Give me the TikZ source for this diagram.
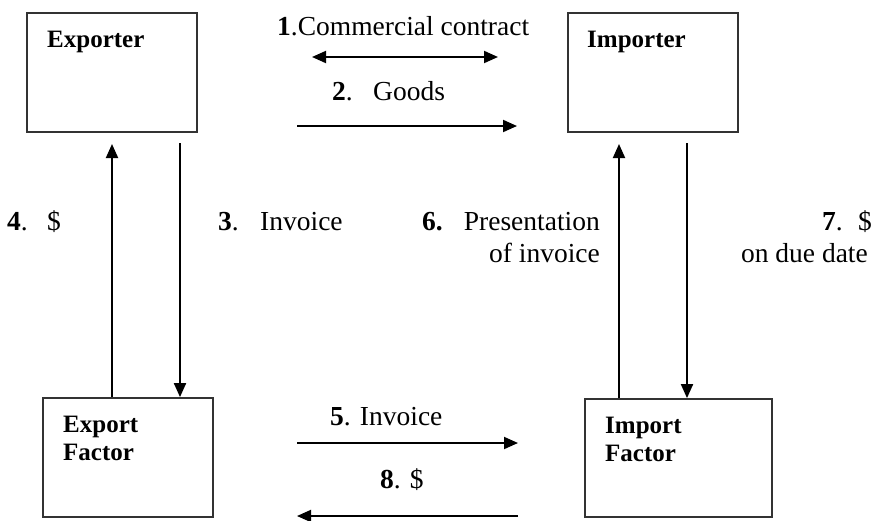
\documentclass[tikz,border=0pt]{standalone}
\usepackage{fontspec}
\setmainfont{Liberation Serif}
\usetikzlibrary{arrows.meta}
\begin{document}
\begin{tikzpicture}[x=1pt,y=-1pt,
  box/.style={draw=black!80, line width=1.8pt, inner sep=0pt,
              minimum height=119pt},
  boxlabel/.style={inner sep=0pt, anchor=base west, align=left,
              font=\fontsize{25}{28}\selectfont\bfseries},
  txt/.style={inner sep=0pt, font=\fontsize{27.5}{31}\selectfont},
  tip/.tip={Triangle[length=14pt,width=12pt]},
  flow/.style={line width=1.9pt, -tip},
  both/.style={line width=1.9pt, tip-tip}]
\useasboundingbox (0,0) rectangle (873,520);

% parties and factors
\node[box, minimum width=170pt] (exp) at (112,72.5) {};
\node[box, minimum width=170pt] (imp) at (653,72.5) {};
\node[box, minimum width=170pt] (ef) at (128,457.5) {};
\node[box, minimum width=187pt, minimum height=118pt] (if) at (678.5,458) {};

\node[boxlabel] (expl) at (47,47) {Exporter};
\node[boxlabel] (impl) at (587,47) {Importer};
\node[boxlabel] (efl1) at (63,432) {Export};
\node[boxlabel] (efl2) at (63,460) {Factor};
\node[boxlabel] (ifl1) at (605,433) {Import};
\node[boxlabel] (ifl2) at (605,461) {Factor};

% free ends of the connectors
\coordinate (c1a) at (312,57);
\coordinate (c1b) at (498,57);
\coordinate (c2a) at (297,126);
\coordinate (c2b) at (517,126);
\coordinate (c5a) at (297,443);
\coordinate (c5b) at (518,443);
\coordinate (c8a) at (518,516);
\coordinate (c8b) at (297,516);
\coordinate (c4) at (112,144);
\coordinate (c3) at (180,143);
\coordinate (c6) at (619,144);
\coordinate (c7) at (687,143);

% connectors
\draw[both] (c1a) -- (c1b);
\draw[flow] (c2a) -- (c2b);
\draw[flow] (c5a) -- (c5b);
\draw[flow] (c8a) -- (c8b);
\draw[flow] (ef.north -| c4) -- (c4);
\draw[flow] (c3) -- (ef.north -| c3);
\draw[flow] (if.north -| c6) -- (c6);
\draw[flow] (c7) -- (if.north -| c7);

% labels
\node[txt, anchor=base west] (l1) at (277,35) {\textbf{1}.Commercial contract};
\node[txt, anchor=base west] (l2n) at (332,100) {\textbf{2}.};
\node[txt, anchor=base west] (l2) at (373,100) {Goods};
\node[txt, anchor=base west] (l4n) at (7,230) {\textbf{4}.};
\node[txt, anchor=base west] (l4) at (47,230) {\$};
\node[txt, anchor=base west] (l3n) at (218,230) {\textbf{3}.};
\node[txt, anchor=base west] (l3) at (260,230) {Invoice};
\node[txt, anchor=base west] (l6n) at (422,230) {\textbf{6.}};
\node[txt, anchor=base east] (l6) at (600,230) {Presentation};
\node[txt, anchor=base east] (l6b) at (600,262) {of invoice};
\node[txt, anchor=base west] (l7n) at (822,230) {\textbf{7}.};
\node[txt, anchor=base west] (l7) at (858,230) {\$};
\node[txt, anchor=base east] (l7b) at (868,262) {on due date};
\node[txt, anchor=base west] (l5) at (330,425) {\textbf{5}. Invoice};
\node[txt, anchor=base west] (l8) at (380,488) {\textbf{8}. \$};
\end{tikzpicture}
\end{document}
